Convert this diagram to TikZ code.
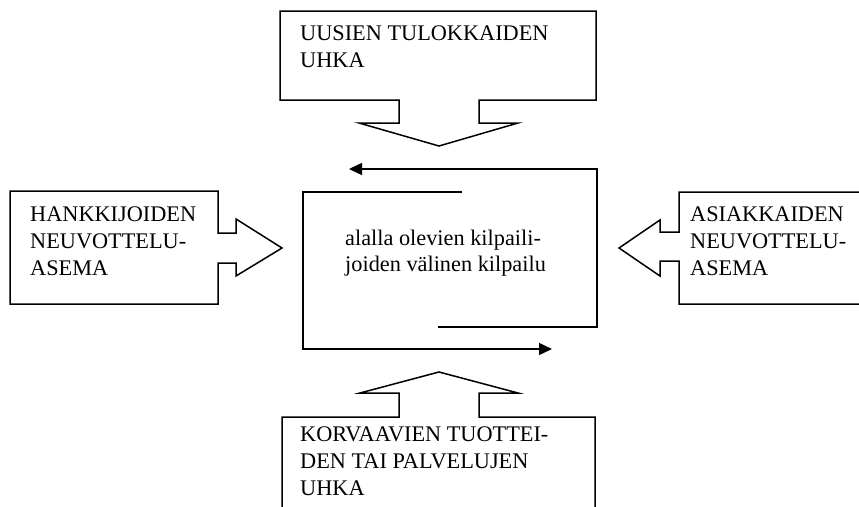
\documentclass[tikz,border=0pt]{standalone}
\usepackage{fontspec}
\setmainfont{Liberation Serif}
\usetikzlibrary{arrows.meta}
\begin{document}
\begin{tikzpicture}[x=1pt,y=-1pt,
  outline/.style={draw=black,line width=1.5pt,line join=miter},
  cycleline/.style={draw=black,line width=1.5pt,-{Triangle[length=13pt,width=12pt]}},
  label/.style={anchor=base west,align=left,inner sep=0pt,
    font=\fontsize{22.3}{27}\selectfont}]
\useasboundingbox (0,0) rectangle (859,506);
\clip (0,0) rectangle (859,506);
\fill[white] (0,0) rectangle (859,506);

% threat of new entrants (top)
\draw[outline] (280,11) -- (596,11) -- (596,100) -- (479,100) -- (479,123)
  -- (518,123) -- (439,146) -- (359,123) -- (399,123) -- (399,100)
  -- (280,100) -- cycle;
\node[label] (entrants) at (300,67) {UUSIEN TULOKKAIDEN\\UHKA};

% bargaining power of suppliers (left)
\draw[outline] (10,191) -- (218,191) -- (218,233) -- (236,233) -- (236,219)
  -- (282,248) -- (236,276) -- (236,263) -- (218,263) -- (218,304)
  -- (10,304) -- cycle;
\node[label] (suppliers) at (30,275) {HANKKIJOIDEN\\NEUVOTTELU-\\ASEMA};

% bargaining power of buyers (right)
\draw[outline] (880,192) -- (679,192) -- (679,232) -- (660,232) -- (660,220)
  -- (619,248) -- (660,276) -- (660,261) -- (679,261) -- (679,304)
  -- (880,304);
\node[label] (buyers) at (690,275) {ASIAKKAIDEN\\NEUVOTTELU-\\ASEMA};

% threat of substitutes (bottom)
\draw[outline] (282,530) -- (282,417) -- (399,417) -- (399,393) -- (360,393)
  -- (439,372) -- (518,393) -- (479,393) -- (479,417) -- (595,417)
  -- (595,530);
\node[label] (substitutes) at (300,495) {KORVAAVIEN TUOTTEI-\\DEN TAI PALVELUJEN\\UHKA};

% rivalry among existing competitors (centre)
\coordinate (outerstart) at (438,327);
\coordinate (outerend) at (349,169);
\coordinate (innerstart) at (462,192);
\coordinate (innerend) at (552,349);
\draw[cycleline] (outerstart) -- (597,327) -- (597,169) -- (outerend);
\draw[cycleline] (innerstart) -- (303,192) -- (303,349) -- (innerend);
\node[label,font=\fontsize{22.3}{26}\selectfont] (rivalry) at (345,271)
  {alalla olevien kilpaili-\\joiden välinen kilpailu};
\end{tikzpicture}
\end{document}
